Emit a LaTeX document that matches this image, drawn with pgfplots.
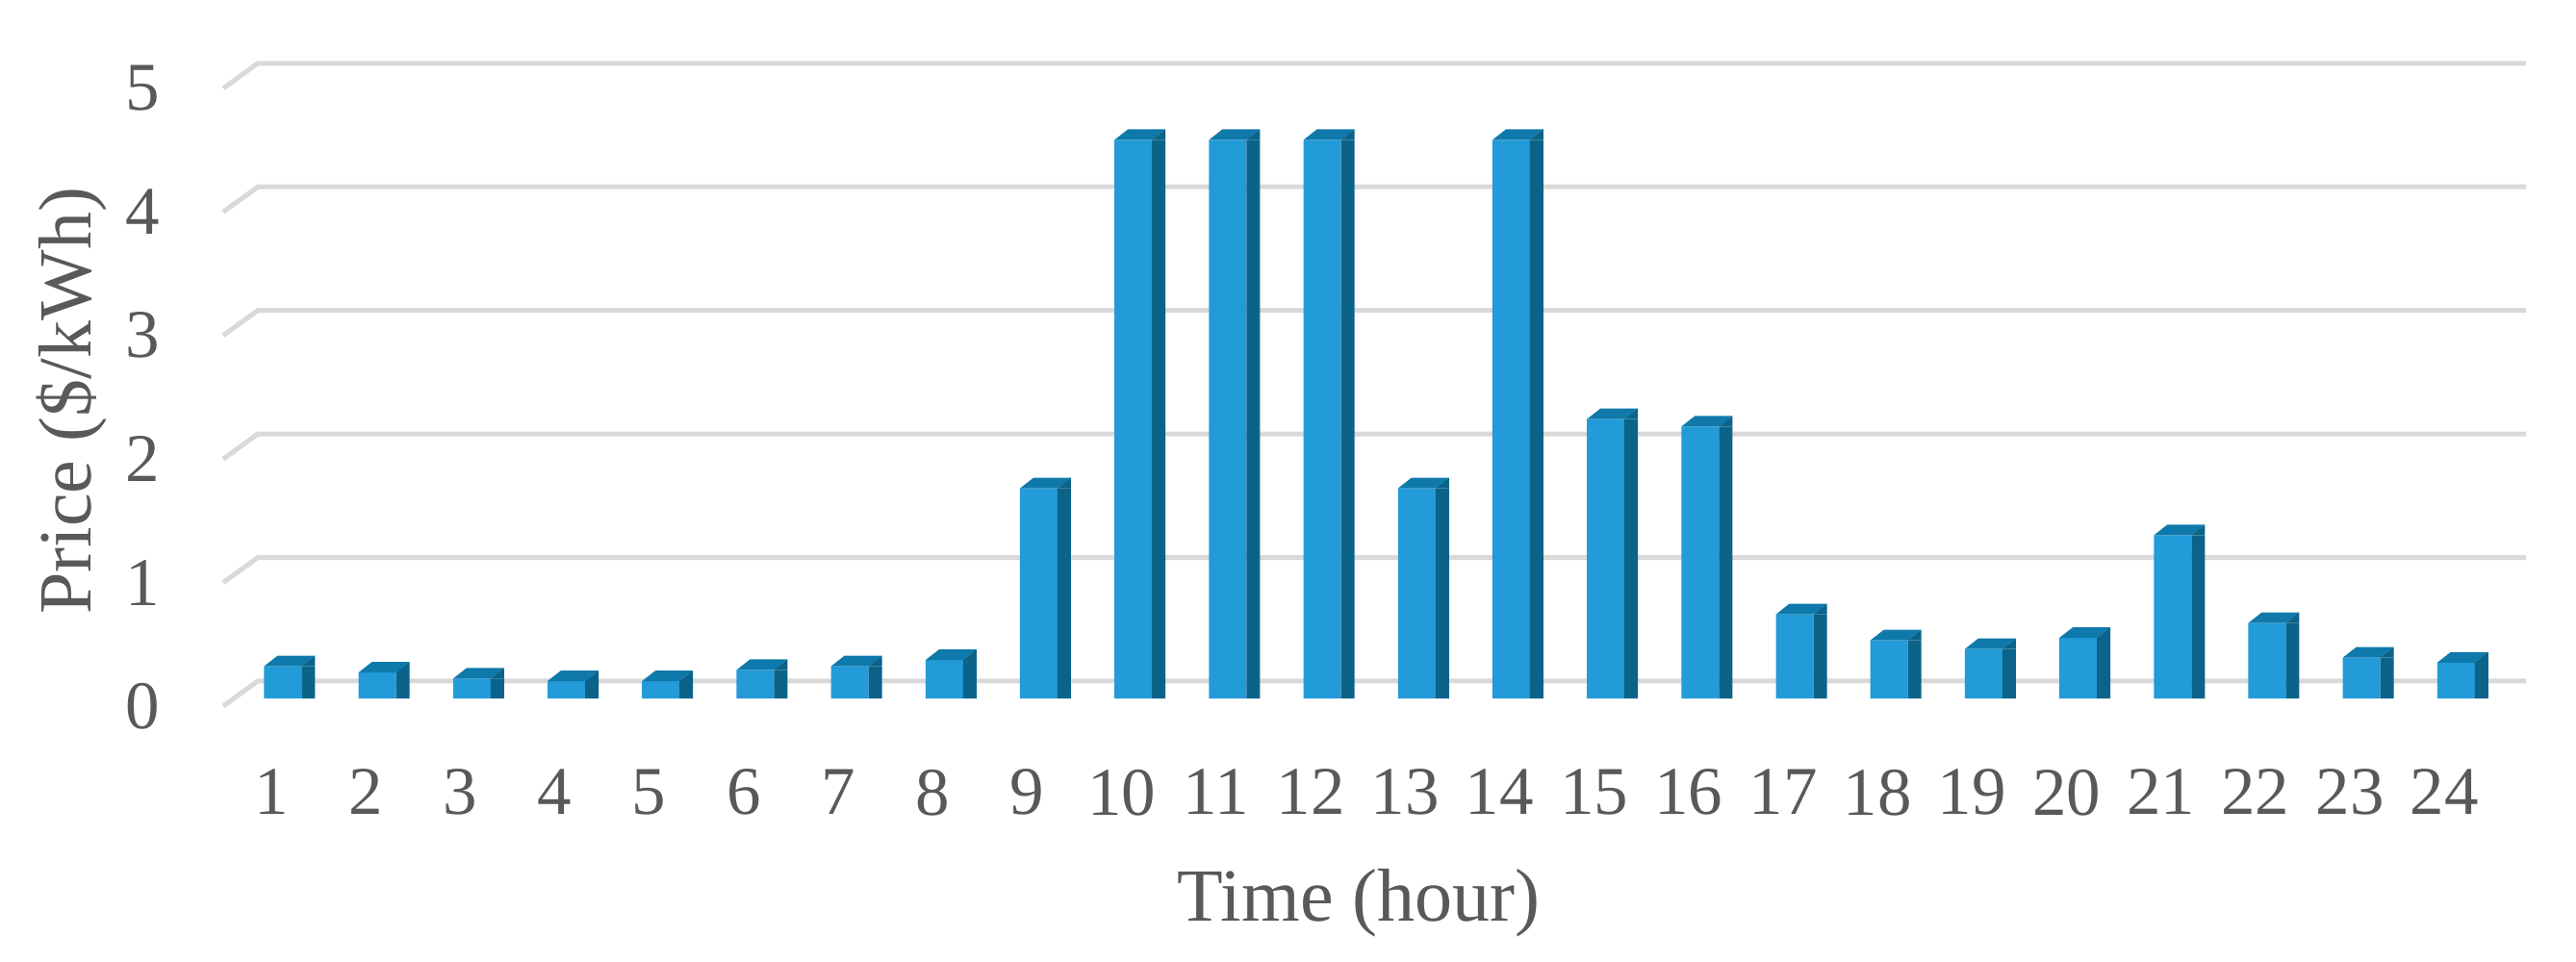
\documentclass[border=0pt]{standalone}
\usepackage{pgfplots}
\pgfplotsset{compat=1.18}
\usepackage{pgfplotstable}
\usepackage{fontspec}
\setmainfont{Liberation Serif}
\definecolor{front}{HTML}{229BD8}
\definecolor{topc}{HTML}{0E79AA}
\definecolor{side}{HTML}{0B6389}
\definecolor{gridc}{HTML}{D9D9D9}
\definecolor{txt}{HTML}{595959}

\pgfdeclareplotmark{topface}{%
 \pgfpathmoveto{\pgfpoint{-4.875pt}{0pt}}%
 \pgfpathlineto{\pgfpoint{4.875pt}{0pt}}%
 \pgfpathlineto{\pgfpoint{8.375pt}{2.75pt}}%
 \pgfpathlineto{\pgfpoint{-1.375pt}{2.75pt}}%
 \pgfpathclose
 \pgfusepath{fill}}
\pgfdeclareplotmark{sidetri}{%
 \pgfpathmoveto{\pgfpoint{4.875pt}{0pt}}%
 \pgfpathlineto{\pgfpoint{8.375pt}{2.75pt}}%
 \pgfpathlineto{\pgfpoint{8.375pt}{0pt}}%
 \pgfpathclose
 \pgfusepath{fill}}

\pgfplotstableread[row sep=\\]{
h p\\
1 0.26\\
2 0.21\\
3 0.16\\
4 0.14\\
5 0.14\\
6 0.23\\
7 0.26\\
8 0.31\\
9 1.70\\
10 4.52\\
11 4.52\\
12 4.52\\
13 1.70\\
14 4.52\\
15 2.26\\
16 2.20\\
17 0.68\\
18 0.47\\
19 0.40\\
20 0.49\\
21 1.32\\
22 0.61\\
23 0.33\\
24 0.29\\
}\pricedata

\begin{document}
\begin{tikzpicture}
\begin{axis}[
 at={(58pt,66.25pt)}, anchor=south west,
 width=598.25pt, height=167pt, scale only axis,
 xmin=0.369, xmax=24.74, ymin=-0.0623, ymax=5.1402,
 clip=false, set layers,
 axis line style={draw=none},
 major tick length=0pt,
 xtick={1,...,24},
 ytick={-0.0623,0.9377,1.9377,2.9377,3.9377,4.9377},
 yticklabels={0,1,2,3,4,5},
 /pgf/number format/assume math mode=true,
 ticklabel style={font=\fontsize{17.75}{20}\selectfont, text=txt, inner sep=0pt},
 xticklabel style={anchor=north, yshift=-16.25pt, xshift=-3pt},
 yticklabel style={anchor=east, xshift=-16.25pt},
 xlabel={Time (hour)}, ylabel={Price (\$/kWh)},
 label style={font=\fontsize{19.5}{22}\selectfont, text=txt},
 xlabel style={at={(axis description cs:0.4931,-0.3338)}, anchor=base},
 ylabel style={at={(axis description cs:-0.066,0.4746)}, anchor=center},
]
\begin{pgfonlayer}{axis background}
\draw[gridc, line width=1.25pt, line join=round] (axis cs:0.369,-0.0623) -- (axis cs:0.735,0.1402) -- (axis cs:24.74,0.1402);
\draw[gridc, line width=1.25pt, line join=round] (axis cs:0.369,0.9377) -- (axis cs:0.735,1.1402) -- (axis cs:24.74,1.1402);
\draw[gridc, line width=1.25pt, line join=round] (axis cs:0.369,1.9377) -- (axis cs:0.735,2.1402) -- (axis cs:24.74,2.1402);
\draw[gridc, line width=1.25pt, line join=round] (axis cs:0.369,2.9377) -- (axis cs:0.735,3.1402) -- (axis cs:24.74,3.1402);
\draw[gridc, line width=1.25pt, line join=round] (axis cs:0.369,3.9377) -- (axis cs:0.735,4.1402) -- (axis cs:24.74,4.1402);
\draw[gridc, line width=1.25pt, line join=round] (axis cs:0.369,4.9377) -- (axis cs:0.735,5.1402) -- (axis cs:24.74,5.1402);
\end{pgfonlayer}
\addplot[ybar, bar width=9.75pt, bar shift=0pt, fill=front, draw=none] table[x=h,y=p] {\pricedata};
\addplot[ybar, bar width=3.5pt, bar shift=6.625pt, fill=side, draw=none] table[x=h,y=p] {\pricedata};
\addplot[only marks, mark=topface, color=topc, mark options={fill=topc, draw=none}] table[x=h,y=p] {\pricedata};
\addplot[only marks, mark=sidetri, color=side, mark options={fill=side, draw=none}] table[x=h,y=p] {\pricedata};
\end{axis}
\path (0,0) rectangle (669.25pt,249.75pt);
\end{tikzpicture}
\end{document}
